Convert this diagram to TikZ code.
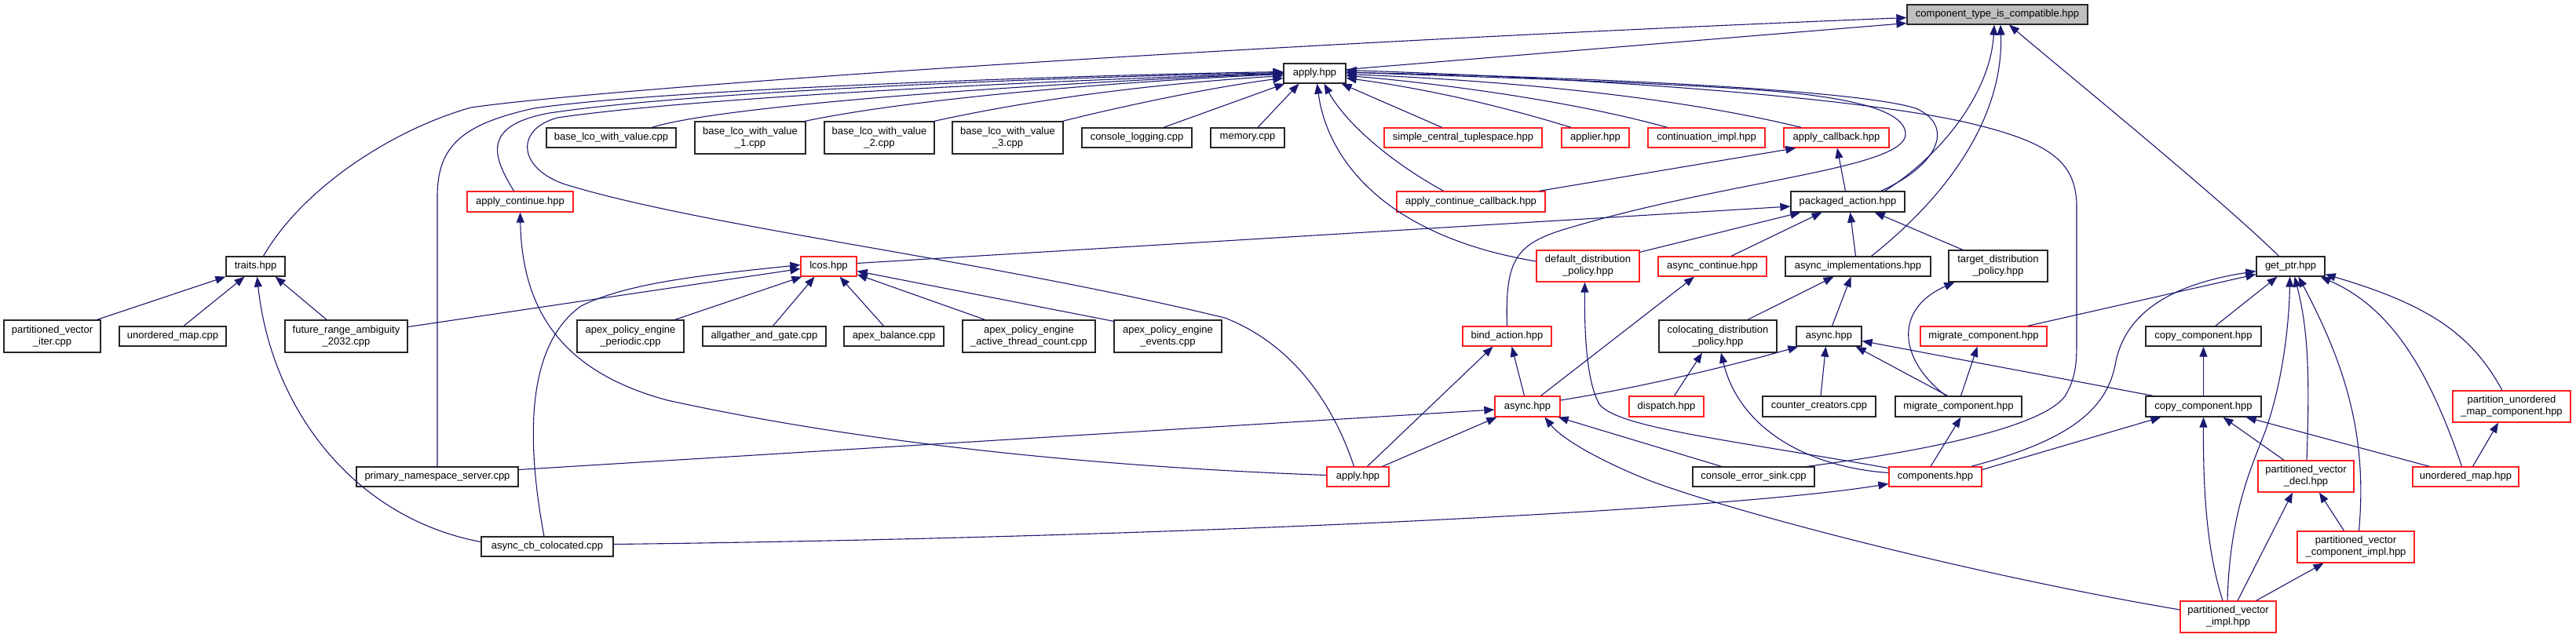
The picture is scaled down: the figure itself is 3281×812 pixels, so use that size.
\documentclass[tikz,border=0pt]{standalone}
\usepackage{fontspec}
\setmainfont{Liberation Sans}
\usetikzlibrary{arrows.meta,calc}
\definecolor{edgecol}{HTML}{191970}
\definecolor{boxred}{HTML}{FF2020}
\definecolor{grayfill}{HTML}{BFBFBF}
\tikzset{
 box/.style={draw=black!85, line width=1.3pt, fill=white, inner sep=0pt, align=center, font=\fontsize{13}{15}\selectfont},
 rbox/.style={box, draw=boxred},
 gbox/.style={box, fill=grayfill},
 e/.style={draw=edgecol, line width=1.1pt, -{Triangle[length=13pt,width=10pt]}},
}
\newcommand{\mybox}[7][box]{\node[#1, minimum width={#5-#3}, minimum height={#6-#4}] (#2) at ({(#3+#5)/2},{(#4+#6)/2}) {#7};}
\begin{document}
\begin{tikzpicture}[x=1pt,y=-1pt]
\useasboundingbox (0,0) rectangle (3281,812);
\mybox[gbox]{ct}{2429}{6}{2659}{31}{component\_type\_is\_compatible.hpp}
\mybox{apply}{1635}{81}{1714}{106}{apply.hpp}
\mybox{traits}{288}{327}{363}{352}{traits.hpp}
\mybox{blz}{696}{163}{861}{188}{base\_lco\_with\_value.cpp}
\mybox{bla}{885}{155}{1026}{196}{base\_lco\_with\_value\\\_1.cpp}
\mybox{blb}{1050}{155}{1190}{196}{base\_lco\_with\_value\\\_2.cpp}
\mybox{blc}{1213}{155}{1354}{196}{base\_lco\_with\_value\\\_3.cpp}
\mybox{clog}{1378}{163}{1518}{188}{console\_logging.cpp}
\mybox{memory}{1542}{163}{1636}{188}{memory.cpp}
\mybox[rbox]{sct}{1763}{163}{1964}{188}{simple\_central\_tuplespace.hpp}
\mybox[rbox]{applier}{1989}{163}{2075}{188}{applier.hpp}
\mybox[rbox]{contimpl}{2099}{163}{2248}{188}{continuation\_impl.hpp}
\mybox[rbox]{applycb}{2272}{163}{2406}{188}{apply\_callback.hpp}
\mybox[rbox]{acont}{595}{244}{730}{270}{apply\_continue.hpp}
\mybox[rbox]{acontcb}{1779}{244}{1968}{270}{apply\_continue\_callback.hpp}
\mybox{pa}{2281}{244}{2426}{270}{packaged\_action.hpp}
\mybox[rbox]{lcos}{1020}{327}{1091}{352}{lcos.hpp}
\mybox[rbox]{ddp}{1957}{319}{2088}{359}{default\_distribution\\\_policy.hpp}
\mybox[rbox]{acontinue}{2112}{327}{2250}{352}{async\_continue.hpp}
\mybox{aimpl}{2274}{327}{2459}{352}{async\_implementations.hpp}
\mybox{tdp}{2482}{319}{2608}{359}{target\_distribution\\\_policy.hpp}
\mybox{getptr}{2874}{327}{2961}{352}{get\_ptr.hpp}
\mybox{pvi}{5}{408}{128}{449}{partitioned\_vector\\\_iter.cpp}
\mybox{umapcpp}{152}{416}{288}{441}{unordered\_map.cpp}
\mybox{fra}{363}{408}{519}{449}{future\_range\_ambiguity\\\_2032.cpp}
\mybox{apep}{735}{408}{871}{449}{apex\_policy\_engine\\\_periodic.cpp}
\mybox{aag}{895}{416}{1052}{441}{allgather\_and\_gate.cpp}
\mybox{abal}{1075}{416}{1202}{441}{apex\_balance.cpp}
\mybox{apeatc}{1226}{408}{1395}{449}{apex\_policy\_engine\\\_active\_thread\_count.cpp}
\mybox{apee}{1419}{408}{1556}{449}{apex\_policy\_engine\\\_events.cpp}
\mybox[rbox]{bind}{1863}{416}{1976}{441}{bind\_action.hpp}
\mybox{cdp}{2113}{408}{2263}{449}{colocating\_distribution\\\_policy.hpp}
\mybox{asyncb}{2288}{416}{2371}{441}{async.hpp}
\mybox[rbox]{migr}{2446}{416}{2607}{441}{migrate\_component.hpp}
\mybox{copyt}{2733}{416}{2880}{441}{copy\_component.hpp}
\mybox[rbox]{asyncr}{1904}{505}{1987}{531}{async.hpp}
\mybox[rbox]{dispatch}{2075}{505}{2170}{531}{dispatch.hpp}
\mybox{cc}{2245}{505}{2389}{531}{counter\_creators.cpp}
\mybox{migb}{2414}{505}{2575}{531}{migrate\_component.hpp}
\mybox{copyb}{2733}{505}{2880}{531}{copy\_component.hpp}
\mybox[rbox]{pumc}{3124}{498}{3274}{538}{partition\_unordered\\\_map\_component.hpp}
\mybox{pns}{454}{595}{660}{620}{primary\_namespace\_server.cpp}
\mybox[rbox]{applyr}{1690}{595}{1769}{620}{apply.hpp}
\mybox{ces}{2156}{595}{2311}{620}{console\_error\_sink.cpp}
\mybox[rbox]{comps}{2406}{595}{2524}{620}{components.hpp}
\mybox[rbox]{pvd}{2876}{587}{2998}{627}{partitioned\_vector\\\_decl.hpp}
\mybox[rbox]{umaph}{3073}{595}{3208}{620}{unordered\_map.hpp}
\mybox[rbox]{pvci}{2926}{677}{3075}{717}{partitioned\_vector\\\_component\_impl.hpp}
\mybox[rbox]{pvimpl}{2777}{766}{2899}{806}{partitioned\_vector\\\_impl.hpp}
\mybox{acc}{613}{684}{781}{709}{async\_cb\_colocated.cpp}
% to component_type_is_compatible
\draw[e] ($(traits.north)+(10,0)$) .. controls (385,240) and (500,165) .. (600,137) .. controls (750,115) and (1500,60) .. ($(ct.west)+(0,4)$);
\draw[e] ($(apply.east)+(0,-5)$) -- ($(ct.west)+(0,11)$);
\draw[e] ($(pa.north)+(47,0)$) .. controls (2470,200) and (2535,120) .. ($(ct.south)+(-4,0)$);
\draw[e] ($(aimpl.north)+(17,0)$) .. controls (2480,250) and (2552,150) .. ($(ct.south)+(4,0)$);
\draw[e] ($(getptr.north)+(-15,0)$) .. controls (2830,255) and (2640,100) .. ($(ct.south)+(15,0)$);
% to apply.hpp
\draw[e] ($(blz.north)+(52,0)$) .. controls (900,140) and (1200,112) .. (apply.west);
\draw[e] ($(bla.north)+(70,0)$) .. controls (1150,128) and (1400,105) .. ($(apply.west)+(0,1)$);
\draw[e] ($(blb.north)+(70,0)$) .. controls (1300,130) and (1450,108) .. ($(apply.west)+(0,3)$);
\draw[e] ($(blc.north)+(70,0)$) .. controls (1430,135) and (1550,110) .. ($(apply.west)+(0,6)$);
\draw[e] ($(clog.north)+(34,0)$) -- ($(apply.south west)+(2,0)$);
\draw[e] ($(memory.north)+(13,0)$) -- ($(apply.south)+(-20,0)$);
\draw[e] ($(sct.north)+(-27,0)$) -- ($(apply.south east)+(-6,0)$);
\draw[e] ($(applier.north)+(-31,0)$) .. controls (1880,125) and (1780,108) .. ($(apply.east)+(0,6)$);
\draw[e] ($(contimpl.north)+(-50,0)$) .. controls (1990,125) and (1800,103) .. ($(apply.east)+(0,3)$);
\draw[e] ($(applycb.north)+(-45,0)$) .. controls (2100,115) and (1850,100) .. ($(apply.east)+(0,1)$);
\draw[e] ($(acontcb.north)+(-35,0)$) .. controls (1760,200) and (1710,150) .. ($(apply.south)+(12,0)$);
\draw[e] ($(ddp.west)+(0,-6)$) .. controls (1760,300) and (1690,200) .. ($(apply.south)+(3,0)$);
\draw[e] ($(pa.north)+(42,0)$) .. controls (2470,210) and (2490,160) .. (2440,138) .. controls (2350,110) and (1900,95) .. ($(apply.east)+(0,-1)$);
\draw[e] (bind.north) .. controls (1917,330) and (1930,310) .. (2000,290) .. controls (2200,230) and (2430,215) .. (2427,170) .. controls (2425,130) and (2300,118) .. (2200,112) .. controls (2000,100) and (1800,96) .. ($(apply.east)+(0,-2)$);
\draw[e] ($(ces.north east)+(-10,0)$) .. controls (2450,575) and (2600,545) .. (2630,505) .. controls (2645,480) and (2645,460) .. (2645,430) -- (2645,260) .. controls (2643,205) and (2610,180) .. (2500,155) .. controls (2330,118) and (1950,97) .. ($(apply.east)+(0,-4)$);
\draw[e] ($(acont.north)+(-8,0)$) .. controls (628,200) and (612,160) .. (700,144) .. controls (900,114) and (1400,97) .. ($(apply.west)+(0,-1)$);
\draw[e] (pns.north) -- (557,250) .. controls (557,185) and (590,158) .. (680,138) .. controls (850,113) and (1400,95) .. ($(apply.west)+(0,-2)$);
\draw[e] ($(applyr.north)+(-5,0)$) .. controls (1700,520) and (1650,440) .. (1560,405) .. controls (1250,330) and (900,290) .. (720,235) .. controls (660,215) and (655,165) .. (710,150) .. controls (900,122) and (1400,100) .. (apply.west);
% apply_callback
\draw[e] ($(acontcb.north east)+(-8,0)$) -- ($(applycb.south west)+(16,0)$);
\draw[e] ($(pa.north)+(-3,0)$) -- ($(applycb.south)+(1,0)$);
% packaged_action
\draw[e] ($(lcos.east)+(0,-4)$) -- ($(pa.west)+(0,6)$);
\draw[e] ($(ddp.north east)+(0,3)$) -- ($(pa.south west)+(13,0)$);
\draw[e] ($(acontinue.north)+(24,0)$) -- ($(pa.south)+(-33,0)$);
\draw[e] ($(aimpl.north)+(-3,0)$) -- ($(pa.south)+(3,0)$);
\draw[e] ($(tdp.north)+(-45,0)$) -- ($(pa.south east)+(-39,0)$);
% lcos
\draw[e] ($(apep.north east)+(-12,0)$) -- ($(lcos.south west)+(2,0)$);
\draw[e] ($(aag.north)+(11,0)$) -- ($(lcos.south)+(-18,0)$);
\draw[e] ($(abal.north)+(-13,0)$) -- ($(lcos.south)+(14,0)$);
\draw[e] ($(apeatc.north)+(-56,0)$) -- ($(lcos.south east)+(0,-3)$);
\draw[e] ($(apee.north west)+(0,2)$) -- ($(lcos.east)+(0,6)$);
\draw[e] ($(fra.east)+(0,-12)$) -- ($(lcos.west)+(0,3)$);
\draw[e] ($(acc.north)+(-4,0)$) .. controls (670,560) and (670,440) .. (740,390) .. controls (800,360) and (900,350) .. ($(lcos.west)+(0,-2)$);
% traits
\draw[e] ($(pvi.north east)+(-5,0)$) -- (traits.south west);
\draw[e] ($(umapcpp.north)+(14,0)$) -- ($(traits.south)+(-14,0)$);
\draw[e] ($(acc.west)+(0,-6)$) .. controls (450,660) and (345,520) .. ($(traits.south)+(2,0)$);
\draw[e] ($(fra.north)+(-25,0)$) -- ($(traits.south east)+(-13,0)$);
% apply_continue
\draw[e] ($(applyr.west)+(0,-2)$) .. controls (1400,595) and (1100,565) .. (850,510) .. controls (720,475) and (665,400) .. (acont.south);
% async_continue, default_distribution_policy, colocating
\draw[e] ($(asyncr.north)+(17,0)$) -- ($(acontinue.south)+(-23,0)$);
\draw[e] ($(comps.west)+(0,-11)$) .. controls (2200,560) and (2060,545) .. (2037,515) .. controls (2020,485) and (2018,420) .. ($(ddp.south)+(-4,0)$);
\draw[e] ($(comps.west)+(0,-5)$) .. controls (2300,595) and (2215,545) .. ($(cdp.south)+(4,0)$);
\draw[e] ($(dispatch.north)+(10,0)$) -- ($(cdp.south)+(-20,0)$);
% async_implementations
\draw[e] ($(cdp.north)+(38,0)$) -- ($(aimpl.south)+(-31,0)$);
\draw[e] ($(asyncb.north)+(4,0)$) -- ($(aimpl.south)+(-9,0)$);
% target_distribution_policy
\draw[e] ($(migb.north)+(-16,0)$) .. controls (2420,460) and (2410,395) .. ($(tdp.south west)+(8,0)$);
% async.hpp (black)
\draw[e] ($(asyncr.east)+(0,-8)$) .. controls (2100,492) and (2220,462) .. ($(asyncb.south west)+(3,0)$);
\draw[e] ($(cc.north)+(2,0)$) -- ($(asyncb.south)+(-4,0)$);
\draw[e] ($(migb.north)+(-14,0)$) -- ($(asyncb.south east)+(-8,0)$);
\draw[e] ($(copyb.north west)+(10,0)$) -- ($(asyncb.east)+(0,6)$);
% bind_action
\draw[e] ($(asyncr.north)+(-4,0)$) -- ($(bind.south)+(6,0)$);
\draw[e] ($(applyr.north)+(12,0)$) -- ($(bind.south)+(-18,0)$);
% async.hpp (red)
\draw[e] ($(pns.east)+(0,-9)$) -- ($(asyncr.west)+(0,4)$);
\draw[e] ($(applyr.north east)+(-9,0)$) -- ($(asyncr.south west)+(3,0)$);
\draw[e] ($(ces.north)+(-41,0)$) -- ($(asyncr.south east)+(-3,0)$);
\draw[e] ($(pvimpl.west)+(0,-9)$) .. controls (2500,730) and (2200,650) .. (2100,612) .. controls (2040,588) and (1990,560) .. ($(asyncr.south)+(22,0)$);
% migrate_component
\draw[e] ($(migb.north)+(3,0)$) -- ($(migr.south)+(-8,0)$);
\draw[e] ($(comps.north)+(-6,0)$) -- ($(migb.south)+(3,0)$);
% get_ptr
\draw[e] ($(migr.north east)+(-25,0)$) -- ($(getptr.west)+(0,10)$);
\draw[e] ($(comps.north east)+(-14,0)$) .. controls (2640,560) and (2685,520) .. (2695,460) .. controls (2710,390) and (2780,360) .. ($(getptr.west)+(0,6)$);
\draw[e] ($(copyt.north east)+(-59,0)$) -- ($(getptr.south)+(-17,0)$);
\draw[e] ($(pvimpl.north)+(-1,0)$) .. controls (2840,650) and (2870,590) .. (2885,550) .. controls (2910,480) and (2916,400) .. ($(getptr.south)+(-1,0)$);
\draw[e] ($(pvd.north)+(1,0)$) .. controls (2942,480) and (2940,420) .. ($(getptr.south)+(5,0)$);
\draw[e] ($(pvci.north)+(4,0)$) .. controls (3015,560) and (2990,470) .. ($(getptr.south)+(10,0)$);
\draw[e] ($(umaph.north)+(-5,0)$) .. controls (3090,460) and (3040,390) .. ($(getptr.south east)+(-6,0)$);
\draw[e] ($(pumc.north)+(-12,0)$) .. controls (3150,430) and (3100,390) .. ($(getptr.east)+(0,10)$);
% copy_component
\draw[e] (copyb.north) -- (copyt.south);
\draw[e] ($(comps.east)+(0,-9)$) -- ($(copyb.south west)+(20,0)$);
\draw[e] ($(pvimpl.north)+(-7,0)$) .. controls (2810,700) and (2806,620) .. (copyb.south);
\draw[e] ($(pvd.north)+(-28,0)$) -- ($(copyb.south)+(25,0)$);
\draw[e] ($(umaph.north west)+(22,0)$) -- ($(copyb.south east)+(-20,0)$);
% partition_unordered_map_component, partitioned_vector_decl, component_impl
\draw[e] ($(umaph.north)+(9,0)$) -- ($(pumc.south)+(-17,0)$);
\draw[e] ($(pvimpl.north)+(12,0)$) -- ($(pvd.south)+(-17,0)$);
\draw[e] ($(pvci.north)+(-15,0)$) -- ($(pvd.south)+(17,0)$);
\draw[e] ($(pvimpl.north east)+(-26,0)$) -- ($(pvci.south)+(-41,0)$);
% components
\draw[e] ($(acc.east)+(0,-3)$) .. controls (1500,685) and (2200,650) .. ($(comps.west)+(0,9)$);
\end{tikzpicture}
\end{document}
